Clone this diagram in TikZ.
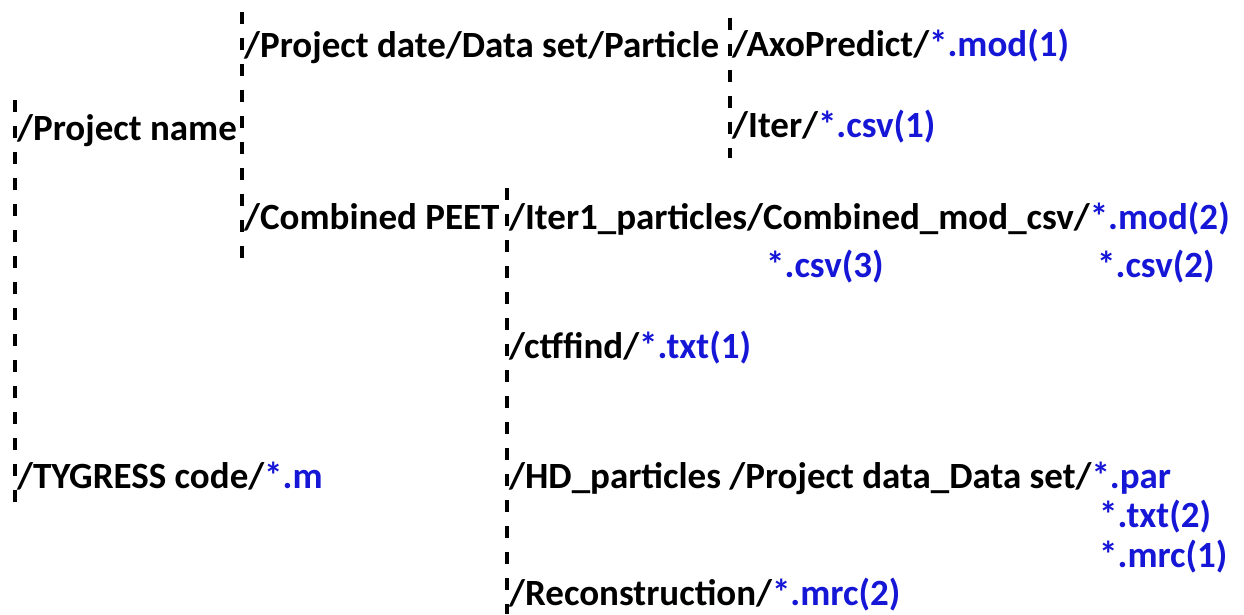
\documentclass[tikz,border=0pt]{standalone}
\usepackage{fontspec}
\setmainfont{Carlito}
\definecolor{fileblue}{RGB}{22,22,215}
\begin{document}
\begin{tikzpicture}[x=1pt,y=-1pt,
  lbl/.style={anchor=base west,inner sep=0pt,font=\fontsize{37}{40}\selectfont\bfseries},
  fb/.style={text=fileblue},
  spine/.style={line width=3.6pt,dash pattern=on 12pt off 14pt}]
\useasboundingbox (0,0) rectangle (1244,614);
% spines
\coordinate (s1t) at (15,100); \coordinate (s1b) at (15,505);
\coordinate (s2t) at (242,12); \coordinate (s2b) at (242,258);
\coordinate (s3t) at (730,18); \coordinate (s3b) at (730,158);
\coordinate (s4t) at (507,188); \coordinate (s4b) at (507,614);
\draw[spine] (s1t) -- (s1b);
\draw[spine] (s2t) -- (s2b);
\draw[spine] (s3t) -- (s3b);
\draw[spine] (s4t) -- (s4b);
% labels
\node[lbl] (pname) at (17,140) {/Project name};
\node[lbl] (pdate) at (244,57) {/Project date/Data set/Particle};
\node[lbl] (axo) at (732,56) {/AxoPredict/\textcolor{fileblue}{*.mod(1)}};
\node[lbl] (iter) at (732,137) {/Iter/\textcolor{fileblue}{*.csv(1)}};
\node[lbl] (comb) at (244,229) {/Combined PEET};
\node[lbl] (iter1) at (509,229) {/Iter1\_particles/Combined\_mod\_csv/\textcolor{fileblue}{*.mod(2)}};
\node[lbl,fb] (csv3) at (766,277) {*.csv(3)};
\node[lbl,fb] (csv2) at (1097,277) {*.csv(2)};
\node[lbl] (ctf) at (509,358) {/ctffind/\textcolor{fileblue}{*.txt(1)}};
\node[lbl] (tyg) at (17,488) {/TYGRESS code/\textcolor{fileblue}{*.m}};
\node[lbl] (hd) at (509,488) {/HD\_particles /Project data\_Data set/\textcolor{fileblue}{*.par}};
\node[lbl,fb] (txt2) at (1099,527) {*.txt(2)};
\node[lbl,fb] (mrc1) at (1099,567) {*.mrc(1)};
\node[lbl] (rec) at (509,605) {/Reconstruction/\textcolor{fileblue}{*.mrc(2)}};
\end{tikzpicture}
\end{document}
